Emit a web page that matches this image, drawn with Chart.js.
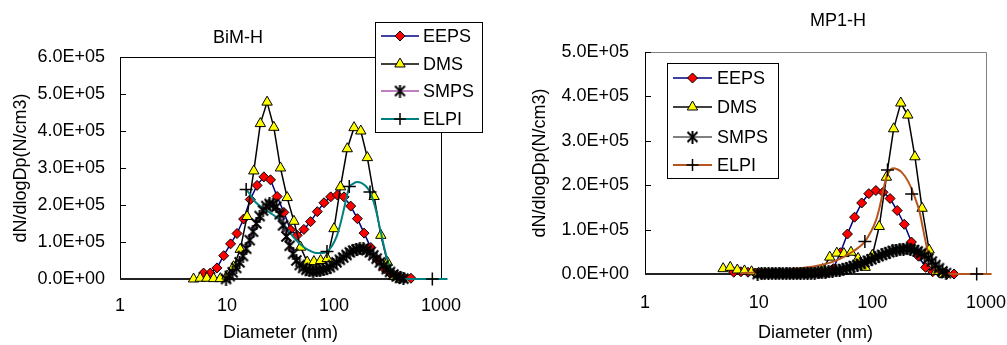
<!DOCTYPE html>
<html lang="en">
<head>
<meta charset="UTF-8">
<title>BiM-H / MP1-H size distributions</title>
<script src="https://cdn.jsdelivr.net/npm/chart.js"></script>
<style>
  html, body { margin: 0; padding: 0; background: #fff; }
  body { width: 1007px; height: 345px; position: relative; overflow: hidden; }
  .panel { position: absolute; top: 0; height: 345px; }
  #left { left: 0; width: 500px; }
  #right { left: 500px; width: 507px; }
</style>
</head>
<body>
<div class="panel" id="left"><canvas id="bimChart" width="500" height="345"></canvas></div>
<div class="panel" id="right"><canvas id="mp1Chart" width="507" height="345"></canvas></div>

<script>
// ---- data (diameters in nm, dN/dlogDp in N/cm3) ----
const xTicks = [1, 10, 100, 1000];

const eepsD = [6.04, 6.98, 8.06, 9.31, 10.8, 12.4, 14.3, 16.5, 19.1, 22.1, 25.5, 29.4, 34.0, 39.2, 45.3, 52.3,
               60.4, 69.8, 80.6, 93.1, 107.5, 124.1, 143.3, 165.5, 191.1, 220.7, 254.8, 294.3, 339.8, 392.4, 453.2, 523.3];
const eepsBim = [0.16e5, 0.16e5, 0.30e5, 0.63e5, 0.95e5, 1.23e5, 1.62e5, 2.15e5, 2.53e5, 2.76e5, 2.68e5, 2.23e5, 1.80e5, 1.33e5, 1.18e5, 1.34e5,
                 1.55e5, 1.82e5, 2.06e5, 2.22e5, 2.27e5, 2.22e5, 1.97e5, 1.63e5, 1.24e5, 0.85e5, 0.52e5, 0.28e5, 0.14e5, 0.07e5, 0.03e5, 0.02e5];
const eepsMp1 = [0.04e5, 0.05e5, 0.04e5, 0.02e5, 0.01e5, 0.01e5, 0.01e5, 0.01e5, 0.01e5, 0.01e5, 0.01e5, 0.01e5, 0.01e5, 0.02e5, 0.12e5, 0.48e5,
                 0.90e5, 1.28e5, 1.60e5, 1.81e5, 1.88e5, 1.84e5, 1.70e5, 1.43e5, 1.12e5, 0.72e5, 0.40e5, 0.15e5, 0.05e5, 0.02e5, 0, 0];

const dmsD = [4.87, 5.62, 6.49, 7.50, 8.66, 10.0, 11.5, 13.3, 15.4, 17.8, 20.5, 23.7, 27.4, 31.6, 36.5, 42.2,
              48.7, 56.2, 64.9, 75.0, 86.6, 100, 115, 133, 154, 178, 205, 237, 274, 316, 365, 422];
const dmsBim = [0, 0.02e5, 0.02e5, 0.01e5, 0.01e5, 0.08e5, 0.33e5, 0.80e5, 1.69e5, 2.92e5, 4.20e5, 4.78e5, 4.10e5, 3.00e5, 2.20e5, 1.56e5,
                0.86e5, 0.46e5, 0.47e5, 0.50e5, 0.55e5, 1.36e5, 2.49e5, 3.52e5, 4.09e5, 4.00e5, 3.28e5, 2.23e5, 1.18e5, 0.45e5, 0.07e5, 0];
const dmsMp1 = [0.12e5, 0.15e5, 0.09e5, 0.07e5, 0.05e5, 0.02e5, 0.01e5, 0.01e5, 0.01e5, 0.01e5, 0.01e5, 0.01e5, 0.01e5, 0.02e5, 0.10e5, 0.38e5,
                0.47e5, 0.46e5, 0.49e5, 0.35e5, 0.15e5, 0.42e5, 1.07e5, 2.18e5, 3.27e5, 3.85e5, 3.58e5, 2.64e5, 1.48e5, 0.54e5, 0.06e5, 0];

const smpsD = [9.8, 10.6, 11.3, 12.2, 13.1, 14.1, 15.1, 16.3, 17.5, 18.8, 20.2, 21.7, 23.3, 25.0, 26.9, 28.9, 31.1, 33.4,
               35.9, 38.5, 41.4, 44.5, 47.8, 51.4, 55.2, 59.4, 63.8, 68.5, 73.7, 79.1, 85.1, 91.4, 98.2, 105.5, 113.4, 121.9,
               131.0, 140.7, 151.2, 162.5, 174.7, 187.7, 201.7, 216.7, 232.9, 250.3, 269.0, 289.0, 310.6, 333.8, 358.7, 385.4, 414.2, 445.1];
const smpsBim = [0, 0.08e5, 0.18e5, 0.30e5, 0.45e5, 0.62e5, 0.82e5, 1.05e5, 1.28e5, 1.50e5, 1.70e5, 1.85e5, 1.97e5, 2.03e5, 2.02e5, 1.95e5, 1.75e5, 1.45e5,
                 1.15e5, 0.90e5, 0.68e5, 0.50e5, 0.38e5, 0.30e5, 0.25e5, 0.22e5, 0.21e5, 0.22e5, 0.23e5, 0.25e5, 0.28e5, 0.32e5, 0.38e5, 0.45e5, 0.52e5, 0.58e5,
                 0.65e5, 0.72e5, 0.77e5, 0.80e5, 0.82e5, 0.82e5, 0.78e5, 0.72e5, 0.64e5, 0.55e5, 0.45e5, 0.36e5, 0.27e5, 0.19e5, 0.12e5, 0.07e5, 0.03e5, 0.01e5];
const smpsMp1 = [0, 0.01e5, 0.01e5, 0.01e5, 0.01e5, 0.01e5, 0.01e5, 0.01e5, 0.01e5, 0.01e5, 0.01e5, 0.01e5, 0.01e5, 0.01e5, 0.02e5, 0.02e5, 0.02e5, 0.03e5,
                 0.03e5, 0.04e5, 0.05e5, 0.06e5, 0.07e5, 0.09e5, 0.11e5, 0.13e5, 0.15e5, 0.18e5, 0.20e5, 0.23e5, 0.26e5, 0.30e5, 0.33e5, 0.37e5, 0.40e5, 0.43e5,
                 0.46e5, 0.49e5, 0.52e5, 0.54e5, 0.55e5, 0.56e5, 0.57e5, 0.56e5, 0.54e5, 0.51e5, 0.47e5, 0.41e5, 0.35e5, 0.28e5, 0.20e5, 0.13e5, 0.06e5, 0.02e5];

// ELPI fitted curve and stage points
const elpiFitBimD = [15.1, 16.1, 18.7, 25, 31, 36, 41.6, 51.6, 60, 69, 78, 86, 95, 106, 115, 124, 132, 139, 150, 163,
                     180, 200, 217, 235, 251, 265, 278, 295, 310, 335, 359, 400, 450, 520, 1150];
const elpiFitBimV = [2.42e5, 2.32e5, 2.06e5, 1.80e5, 1.60e5, 1.38e5, 1.14e5, 0.87e5, 0.76e5, 0.70e5, 0.70e5, 0.74e5, 0.88e5, 1.15e5, 1.50e5, 1.90e5, 2.25e5, 2.48e5, 2.57e5, 2.62e5,
                     2.60e5, 2.50e5, 2.35e5, 2.08e5, 1.77e5, 1.45e5, 1.18e5, 0.85e5, 0.60e5, 0.30e5, 0.14e5, 0.05e5, 0.01e5, 0, 0];
const elpiStageBimD = [15.1, 86, 139, 217, 830];
const elpiStageBimV = [2.42e5, 0.74e5, 2.50e5, 2.35e5, 0];

const elpiFitMp1D = [7, 10, 15, 23, 32, 42, 52, 64, 76, 86, 97, 108, 117, 125, 134, 143, 153, 165, 180, 207,
                     231, 262, 280, 301, 320, 355, 410, 500, 1120];
const elpiFitMp1V = [0.02e5, 0.04e5, 0.08e5, 0.13e5, 0.18e5, 0.25e5, 0.34e5, 0.47e5, 0.60e5, 0.73e5, 0.95e5, 1.22e5, 1.55e5, 1.90e5, 2.20e5, 2.34e5, 2.38e5, 2.36e5, 2.30e5, 2.08e5,
                     1.80e5, 1.37e5, 1.00e5, 0.61e5, 0.32e5, 0.09e5, 0.02e5, 0, 0];
const elpiStageMp1D = [86, 136, 222, 828];
const elpiStageMp1V = [0.73e5, 2.34e5, 1.80e5, 0];

// ---- helpers ----
Chart.defaults.font.family = '"Liberation Sans", Arial, sans-serif';
Chart.defaults.font.size = 18;
Chart.defaults.color = '#000';

function pts(xs, ys) {
    return xs.map((x, i) => ({ x: x, y: ys[i] }));
}

function sci(v) {
    if (v === 0) return '0.0E+00';
    const e = Math.floor(Math.log10(v) + 1e-9);
    return (v / Math.pow(10, e)).toFixed(1) + 'E+' + String(e).padStart(2, '0');
}

// excel style asterisk marker
function makeAsterisk() {
    const c = document.createElement('canvas');
    c.width = 13; c.height = 13;
    const g = c.getContext('2d');
    g.strokeStyle = '#000';
    g.lineWidth = 2;
    g.beginPath();
    g.moveTo(6.5, 0); g.lineTo(6.5, 13);
    g.moveTo(1.5, 1.5); g.lineTo(11.5, 11.5);
    g.moveTo(1.5, 11.5); g.lineTo(11.5, 1.5);
    g.stroke();
    return c;
}
const asterisk = makeAsterisk();

function drawMarker(ctx, kind, x, y) {
    ctx.save();
    ctx.strokeStyle = '#000';
    ctx.lineWidth = 1;
    ctx.beginPath();
    if (kind === 'diamond') {
        const r = 5;
        ctx.moveTo(x, y - r); ctx.lineTo(x + r, y); ctx.lineTo(x, y + r); ctx.lineTo(x - r, y); ctx.closePath();
        ctx.fillStyle = '#FF0000'; ctx.fill(); ctx.stroke();
    } else if (kind === 'triangle') {
        const r = 6;
        ctx.moveTo(x, y - r);
        ctx.lineTo(x + r * Math.sin(2 * Math.PI / 3), y - r * Math.cos(2 * Math.PI / 3));
        ctx.lineTo(x + r * Math.sin(4 * Math.PI / 3), y - r * Math.cos(4 * Math.PI / 3));
        ctx.closePath();
        ctx.fillStyle = '#FFFF00'; ctx.fill(); ctx.stroke();
    } else if (kind === 'star') {
        ctx.drawImage(asterisk, x - 6.5, y - 6.5);
    } else if (kind === 'cross') {
        ctx.lineWidth = 1.5;
        ctx.moveTo(x - 6, y); ctx.lineTo(x + 6, y);
        ctx.moveTo(x, y - 6); ctx.lineTo(x, y + 6);
        ctx.stroke();
    }
    ctx.restore();
}

// plot frame + inside y ticks
const frame = {
    id: 'frame',
    beforeDatasetsDraw(chart, args, o) {
        const { ctx, chartArea: a } = chart;
        ctx.save();
        ctx.lineWidth = 1;
        ctx.strokeStyle = o.box;
        ctx.beginPath();
        ctx.moveTo(a.left, a.top + 0.5);
        ctx.lineTo(a.right + 0.5, a.top + 0.5);
        ctx.lineTo(a.right + 0.5, a.bottom);
        ctx.stroke();
        ctx.strokeStyle = '#000';
        ctx.beginPath();
        ctx.moveTo(a.left + 0.5, a.top);
        ctx.lineTo(a.left + 0.5, a.bottom);
        const ys = chart.scales.y;
        ys.ticks.forEach(t => {
            const y = Math.round(ys.getPixelForValue(t.value)) + 0.5;
            ctx.moveTo(a.left, y);
            ctx.lineTo(a.left + 6, y);
        });
        ctx.stroke();
        ctx.lineWidth = 2;
        ctx.strokeStyle = '#222';
        ctx.beginPath();
        ctx.moveTo(a.left, a.bottom);
        ctx.lineTo(a.right + 1, a.bottom);
        ctx.stroke();
        ctx.restore();
    }
};

// chart title + legend box
const decor = {
    id: 'decor',
    afterDraw(chart, args, o) {
        const ctx = chart.ctx;
        ctx.save();
        ctx.font = '18px "Liberation Sans", Arial, sans-serif';
        ctx.fillStyle = '#000';
        ctx.textAlign = 'center';
        ctx.textBaseline = 'middle';
        ctx.fillText(o.title, o.titleX, o.titleY);

        const b = o.box;
        ctx.fillStyle = '#fff';
        ctx.fillRect(b.x, b.y, b.w, b.h);
        ctx.strokeStyle = '#000';
        ctx.lineWidth = 1;
        ctx.strokeRect(b.x + 0.5, b.y + 0.5, b.w, b.h);

        ctx.textAlign = 'left';
        o.rows.forEach((r, i) => {
            const y = o.rowY[i];
            ctx.strokeStyle = r.color;
            ctx.lineWidth = r.width;
            ctx.beginPath();
            ctx.moveTo(o.lineX0, y);
            ctx.lineTo(o.lineX1, y);
            ctx.stroke();
            drawMarker(ctx, r.marker, (o.lineX0 + o.lineX1) / 2, y);
            ctx.fillStyle = '#000';
            ctx.fillText(r.label, o.textX, y + 1);
        });
        ctx.restore();
    }
};

function buildDatasets(eeps, dms, smps, smpsColor, fitD, fitV, stD, stV, elpiColor) {
    return [
        {
            label: 'EEPS', data: pts(eepsD, eeps), showLine: true, order: 3, clip: false,
            borderColor: '#000080', borderWidth: 1.5,
            pointStyle: 'rectRot', pointRadius: 5, pointBackgroundColor: '#FF0000',
            pointBorderColor: '#000', pointBorderWidth: 1
        },
        {
            label: 'DMS', data: pts(dmsD, dms), showLine: true, order: 2, clip: false,
            borderColor: '#000', borderWidth: 1.5,
            pointStyle: 'triangle', pointRadius: 6, pointBackgroundColor: '#FFFF00',
            pointBorderColor: '#000', pointBorderWidth: 1
        },
        {
            label: 'SMPS', data: pts(smpsD, smps), showLine: true, order: 0, clip: false,
            borderColor: smpsColor, borderWidth: 1,
            pointStyle: asterisk, pointRadius: 6
        },
        {
            label: 'ELPI', data: pts(fitD, fitV), showLine: true, order: 1, clip: false,
            borderColor: elpiColor, borderWidth: 2, pointRadius: 0,
            cubicInterpolationMode: 'monotone'
        },
        {
            label: 'ELPI stages', data: pts(stD, stV), showLine: false, order: -1, clip: false,
            pointStyle: 'cross', pointRadius: 6.5, pointBorderColor: '#000', pointBorderWidth: 1.5
        }
    ];
}

function buildOptions(cfg) {
    return {
        responsive: false,
        animation: false,
        events: [],
        layout: { padding: { left: 0, top: cfg.top, right: cfg.right, bottom: 0 } },
        scales: {
            x: {
                type: 'logarithmic', min: 1, max: 1000,
                grid: { display: false, drawTicks: false }, border: { display: false },
                afterBuildTicks: s => { s.ticks = xTicks.map(v => ({ value: v })); },
                afterFit: s => { s.height = cfg.xHeight; s.paddingLeft = 0; s.paddingRight = 0; },
                ticks: { padding: cfg.xPad, maxRotation: 0, autoSkip: false, callback: v => String(v) },
                title: { display: true, text: 'Diameter (nm)', padding: { top: 0, bottom: 1 } }
            },
            y: {
                min: 0, max: cfg.yMax,
                grid: { display: false, drawTicks: false }, border: { display: false },
                afterFit: s => { s.width = cfg.yWidth; s.paddingTop = 0; s.paddingBottom = 0; },
                ticks: { stepSize: 1e5, padding: cfg.yPad, callback: v => sci(v) },
                title: { display: true, text: 'dN/dlogDp(N/cm3)', padding: { top: cfg.yTitlePad, bottom: 0 } }
            }
        },
        plugins: {
            legend: { display: false },
            tooltip: { enabled: false },
            frame: { box: cfg.boxColor },
            decor: cfg.decor
        }
    };
}

// Left: BiM-H
new Chart(document.getElementById('bimChart'), {
    type: 'scatter',
    data: { datasets: buildDatasets(eepsBim, dmsBim, smpsBim, '#800080', elpiFitBimD, elpiFitBimV, elpiStageBimD, elpiStageBimV, '#008080') },
    options: buildOptions({
        top: 57, right: 59, xHeight: 66, yWidth: 120, xPad: 16, yPad: 15, yTitlePad: 10, yMax: 6e5, boxColor: '#000',
        decor: {
            title: 'BiM-H', titleX: 238, titleY: 38,
            box: { x: 375, y: 22, w: 107, h: 110 },
            rowY: [36, 64, 91, 119], lineX0: 381, lineX1: 419, textX: 423,
            rows: [
                { label: 'EEPS', color: '#000080', width: 1.5, marker: 'diamond' },
                { label: 'DMS', color: '#000', width: 1.5, marker: 'triangle' },
                { label: 'SMPS', color: '#800080', width: 1, marker: 'star' },
                { label: 'ELPI', color: '#008080', width: 2, marker: 'cross' }
            ]
        }
    }),
    plugins: [frame, decor]
});

// Right: MP1-H
new Chart(document.getElementById('mp1Chart'), {
    type: 'scatter',
    data: { datasets: buildDatasets(eepsMp1, dmsMp1, smpsMp1, '#000', elpiFitMp1D, elpiFitMp1V, elpiStageMp1D, elpiStageMp1V, '#B5561F') },
    options: buildOptions({
        top: 52, right: 21, xHeight: 71, yWidth: 145, xPad: 18, yPad: 16, yTitlePad: 29, yMax: 5e5, boxColor: '#808080',
        decor: {
            title: 'MP1-H', titleX: 338, titleY: 21,
            box: { x: 167, y: 63, w: 111, h: 115 },
            rowY: [78, 107, 137, 165], lineX0: 173, lineX1: 212, textX: 217,
            rows: [
                { label: 'EEPS', color: '#000080', width: 1.5, marker: 'diamond' },
                { label: 'DMS', color: '#000', width: 1.5, marker: 'triangle' },
                { label: 'SMPS', color: '#000', width: 1, marker: 'star' },
                { label: 'ELPI', color: '#B5561F', width: 2, marker: 'cross' }
            ]
        }
    }),
    plugins: [frame, decor]
});
</script>
</body>
</html>
